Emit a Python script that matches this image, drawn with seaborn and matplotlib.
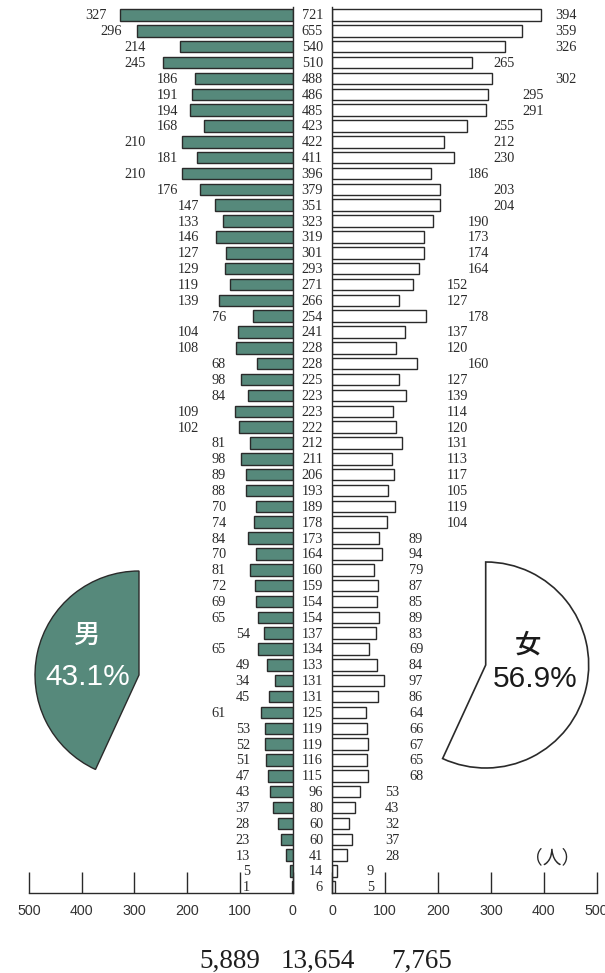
import numpy as np
import pandas as pd
import matplotlib
matplotlib.use("Agg")
import matplotlib.pyplot as plt
from matplotlib import transforms
import seaborn as sns

# ---------------- data ----------------
male = [327, 296, 214, 245, 186, 191, 194, 168, 210, 181, 210, 176, 147, 133,
        146, 127, 129, 119, 139, 76, 104, 108, 68, 98, 84, 109, 102, 81, 98,
        89, 88, 70, 74, 84, 70, 81, 72, 69, 65, 54, 65, 49, 34, 45, 61, 53,
        52, 51, 47, 43, 37, 28, 23, 13, 5, 1]
female = [394, 359, 326, 265, 302, 295, 291, 255, 212, 230, 186, 203, 204, 190,
          173, 174, 164, 152, 127, 178, 137, 120, 160, 127, 139, 114, 120, 131,
          113, 117, 105, 119, 104, 89, 94, 79, 87, 85, 89, 83, 69, 84, 97, 86,
          64, 66, 67, 65, 68, 53, 43, 32, 37, 28, 9, 5]
total = [721, 655, 540, 510, 488, 486, 485, 423, 422, 411, 396, 379, 351, 323,
         319, 301, 293, 271, 266, 254, 241, 228, 228, 225, 223, 223, 222, 212,
         211, 206, 193, 189, 178, 173, 164, 160, 159, 154, 154, 137, 134, 133,
         131, 131, 125, 119, 119, 116, 115, 96, 80, 60, 60, 41, 14, 6]
tick_values = [0, 100, 200, 300, 400, 500]
male_name = "男"
female_name = "女"
unit_text = "（人）"

# ---------------- style ----------------
GREEN = "#56897b"
EDGE = "#2a2a2a"
TXT = "#2a2a2a"
sns.set_style("white")
plt.rcParams["font.family"] = ["Liberation Sans", "Noto Sans CJK JP", "DejaVu Sans"]
SERIF = ["Liberation Serif", "DejaVu Serif"]

W, H = 605, 973
fig = plt.figure(figsize=(W / 100, H / 100), dpi=100)


def px_rect(x0, y0, x1, y1):
    return [x0 / W, 1 - y1 / H, (x1 - x0) / W, (y1 - y0) / H]


ax_m = fig.add_axes(px_rect(29, 7, 292.7, 893))
ax_f = fig.add_axes(px_rect(332.3, 7, 596.7, 893))

rows = [f"r{i}" for i in range(len(male))]
df = pd.DataFrame({"row": rows, "male": male, "female": female, "total": total})

sns.barplot(data=df, y="row", x="male", orient="h", color=GREEN, saturation=1,
            edgecolor=EDGE, linewidth=1.0, width=0.725, errorbar=None, ax=ax_m)
sns.barplot(data=df, y="row", x="female", orient="h", color="white", saturation=1,
            edgecolor=EDGE, linewidth=1.0, width=0.725, errorbar=None, ax=ax_f)

for ax in (ax_m, ax_f):
    ax.set_ylim(55.39, -0.505)
    ax.set_yticks([])
    ax.set_ylabel("")
    ax.set_xlabel("")
    ax.set_xticks(tick_values)
    ax.set_xticklabels([str(v) for v in tick_values])
    ax.tick_params(axis="x", bottom=True, direction="in", length=15, width=1,
                   color=EDGE, pad=8, labelsize=10.3, labelcolor="#333333")
    ax.patch.set_alpha(0)
    for s in ax.spines.values():
        s.set_color(EDGE)
        s.set_linewidth(1.0)
    ax.spines["top"].set_visible(False)

ax_m.set_xlim(500, 0)
ax_f.set_xlim(0, 500)
ax_m.spines["left"].set_visible(False)
ax_f.spines["right"].set_visible(False)

# ---------------- value labels ----------------
m_bins = [55, 100, 150, 200, 250, 300]
m_cols = [81, 126.5, 177.7, 217.5, 278, 323.7, 352]
f_bins = [10, 60, 100, 160, 200, 290, 300]
f_cols = [65.6, 99.7, 145, 217, 256.6, 303.9, 358.8, 421]
dy = 0.28
lab_kw = dict(fontsize=10.3, color=TXT, family=SERIF, va="baseline")
for i, (m, f) in enumerate(zip(male, female)):
    ax_m.text(m_cols[int(np.digitize(m, m_bins))], i + dy, str(m), ha="right", **lab_kw)
    ax_f.text(f_cols[int(np.digitize(f, f_bins))], i + dy, str(f), ha="left", **lab_kw)

trans_c = transforms.blended_transform_factory(fig.transFigure, ax_f.transData)
for i, t in enumerate(total):
    ax_f.text(323 / W, i + dy, str(t), ha="right", transform=trans_c, **lab_kw)

# ---------------- split pie ----------------
m_sum, f_sum = sum(male), sum(female)
grand = m_sum + f_sum

ax_pm = fig.add_axes(px_rect(139 - 104, 675 - 104, 139 + 104, 675 + 104))
w, _ = ax_pm.pie([m_sum, f_sum], startangle=90, counterclock=True,
                 colors=[GREEN, "white"],
                 wedgeprops=dict(edgecolor=EDGE, linewidth=1.0))
w[1].set_visible(False)
ax_pm.set_xlim(-1, 1); ax_pm.set_ylim(-1, 1); ax_pm.axis("off")

ax_pf = fig.add_axes(px_rect(485.7 - 103, 665 - 103, 485.7 + 103, 665 + 103))
w, _ = ax_pf.pie([m_sum, f_sum], startangle=90, counterclock=True,
                 colors=[GREEN, "white"],
                 wedgeprops=dict(edgecolor=EDGE, linewidth=1.2))
w[0].set_visible(False)
ax_pf.set_xlim(-1, 1); ax_pf.set_ylim(-1, 1); ax_pf.axis("off")


def ftext(x, y, s, **kw):
    fig.text(x / W, 1 - y / H, s, **kw)


ftext(87, 636, male_name, ha="center", va="center", fontsize=19, color="white",
      fontweight="medium")
ftext(87.5, 685, f"{m_sum / grand * 100:.1f}%", ha="center", va="baseline",
      fontsize=21.5, color="white")
ftext(528, 645, female_name, ha="center", va="center", fontsize=19, color="#1a1a1a",
      fontweight="medium")
ftext(534.7, 687, f"{f_sum / grand * 100:.1f}%", ha="center", va="baseline",
      fontsize=21.5, color="#1a1a1a")

ftext(552, 858, unit_text, ha="center", va="center", fontsize=13.5, color=TXT,
      family=["Noto Sans CJK JP", "DejaVu Sans"])

# ---------------- totals ----------------
tot_kw = dict(va="baseline", fontsize=19.5, color="#1e1e1e", family=SERIF, ha="center")
ftext(230, 968, f"{m_sum:,}", **tot_kw)
ftext(318, 968, f"{grand:,}", **tot_kw)
ftext(421.7, 968, f"{f_sum:,}", **tot_kw)

fig.savefig("out.png", dpi=100)
